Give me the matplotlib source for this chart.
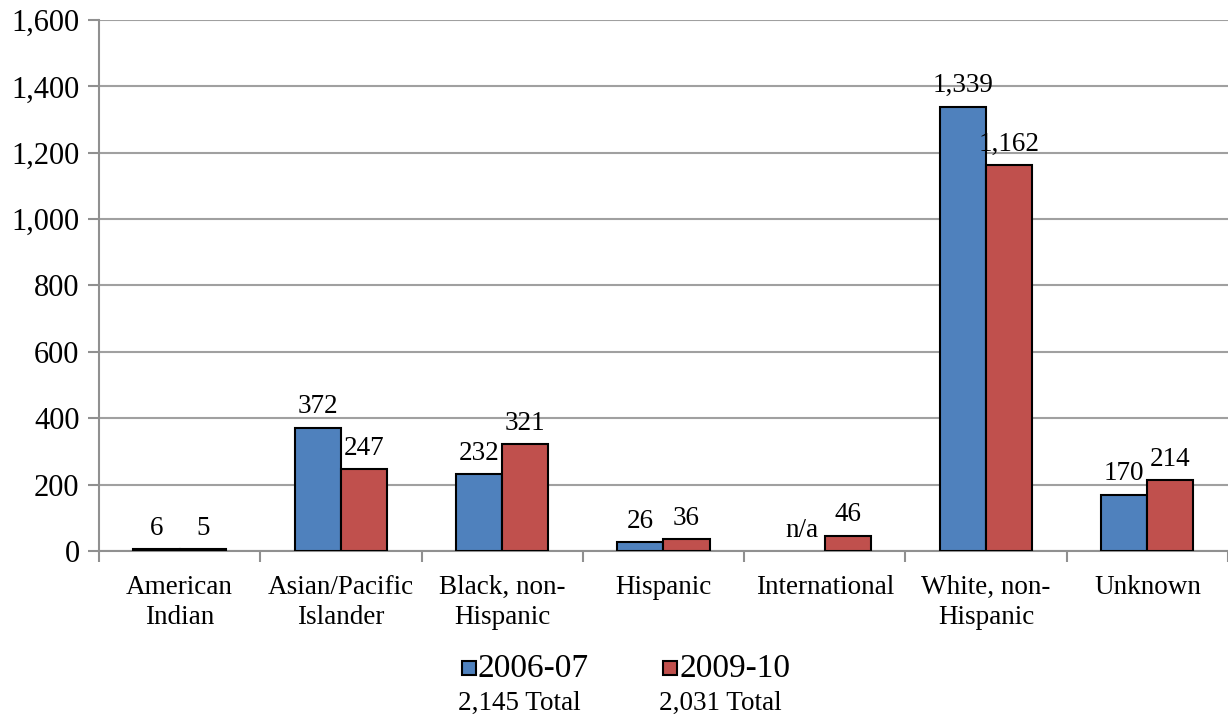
import matplotlib
matplotlib.use("Agg")
import matplotlib.pyplot as plt
import numpy as np
from matplotlib.patches import Rectangle

categories = ["American\nIndian", "Asian/Pacific\nIslander", "Black, non-\nHispanic",
              "Hispanic", "International", "White, non-\nHispanic", "Unknown"]
series_names = ["2006-07", "2009-10"]
totals = ["2,145 Total", "2,031 Total"]
v2006 = [6, 372, 232, 26, None, 1339, 170]
v2009 = [5, 247, 321, 36, 46, 1162, 214]
colors = ["#4F81BD", "#C0504D"]
yticks = [0, 200, 400, 600, 800, 1000, 1200, 1400, 1600]

plt.rcParams['font.family'] = ['Liberation Serif', 'DejaVu Serif']

fig = plt.figure(figsize=(12.28, 7.19), dpi=100)
ax = fig.add_axes([0.0806, 0.2337, 0.9194, 0.7385])

x = np.arange(len(categories))
w = 0.286
for i, (vals, c) in enumerate(zip([v2006, v2009], colors)):
    xs = x - w/2 if i == 0 else x + w/2
    hv = [np.nan if v is None else v for v in vals]
    ax.bar(xs, hv, width=w, color=c, edgecolor="black", linewidth=1.5, zorder=3)
    for xx, v in zip(xs, vals):
        lab = "n/a" if v is None else f"{v:,}"
        ax.annotate(lab, (xx, 0 if v is None else v), xytext=(0, 6),
                    textcoords="offset points", ha="center", va="bottom", fontsize=19.5)

ax.set_xlim(-0.5, len(categories) - 0.5)
ax.set_ylim(0, 1600)
ax.set_yticks(yticks)
ax.set_yticklabels([f"{t:,}" for t in yticks], fontsize=22)
ax.yaxis.grid(True, color="#A0A0A0", linewidth=1.5, zorder=0)
ax.set_axisbelow(True)
for s in ["top", "right"]:
    ax.spines[s].set_visible(False)
for s in ["left", "bottom"]:
    ax.spines[s].set_color("#909090")
    ax.spines[s].set_linewidth(1.5)
ax.tick_params(axis="y", length=8, color="#909090", width=1.5, pad=6)
ax.set_xticks(np.arange(-0.5, len(categories), 1.0))
ax.set_xticklabels([])
ax.tick_params(axis="x", length=8, color="#909090", width=1.5)
ax.set_xticks(x, minor=True)
ax.set_xticklabels(categories, minor=True, fontsize=19.5, linespacing=1.3)
ax.tick_params(axis="x", which="minor", length=0, pad=17)

# legend
lx = [0.376, 0.540]
for i in range(2):
    fig.patches.append(Rectangle((lx[i], 0.061), 0.0115, 0.0195, transform=fig.transFigure,
                                 facecolor=colors[i], edgecolor="black", linewidth=1.5))
    fig.text(lx[i] + 0.013, 0.0705, series_names[i], fontsize=24, va="center", ha="left")
    fig.text(lx[i] - 0.003, 0.021, totals[i], fontsize=19.5, va="center", ha="left")

fig.savefig("out.png", dpi=100)
